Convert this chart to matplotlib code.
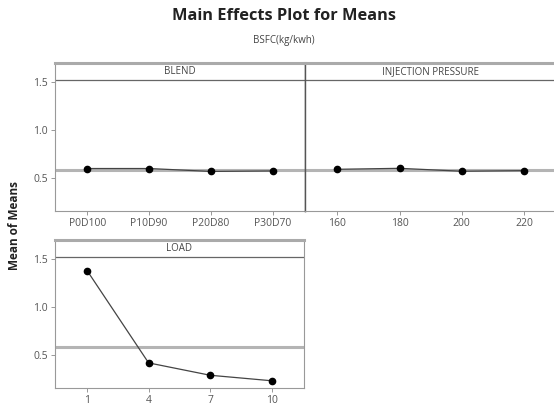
import matplotlib
matplotlib.use("Agg")
import matplotlib.pyplot as plt

# factor levels and main-effect means
blend_levels = ["P0D100", "P10D90", "P20D80", "P30D70"]
blend_means = [0.600, 0.600, 0.570, 0.575]

pressure_levels = ["160", "180", "200", "220"]
pressure_means = [0.592, 0.602, 0.572, 0.578]

load_levels = ["1", "4", "7", "10"]
load_means = [1.376, 0.420, 0.292, 0.235]

grand_mean = 0.583
y_ticks = [0.5, 1.0, 1.5]

plt.rcParams["font.family"] = ["Open Sans", "DejaVu Sans"]

fig = plt.figure(figsize=(5.54, 4.13), dpi=100)

ax_blend = fig.add_axes([0.0993, 0.489, 0.451, 0.358])
ax_press = fig.add_axes([0.5505, 0.489, 0.4535, 0.358])
ax_load = fig.add_axes([0.0993, 0.0605, 0.449, 0.358])

panels = [
    (ax_blend, "BLEND", blend_levels, blend_means, True),
    (ax_press, "INJECTION PRESSURE", pressure_levels, pressure_means, False),
    (ax_load, "LOAD", load_levels, load_means, True),
]

for ax, name, levels, means, show_y in panels:
    xs = list(range(len(levels)))
    ax.axhline(grand_mean, color="#b4b4b4", lw=2.2, zorder=1)
    ax.plot(xs, means, color="#444444", lw=0.9, zorder=2)
    ax.plot(xs, means, "o", color="black", ms=4.5, zorder=3)

    ax.set_xlim(-0.52, len(levels) - 0.48)
    ax.set_ylim(0.16, 1.69)
    ax.set_xticks(xs)
    ax.set_xticklabels(levels)
    ax.set_yticks(y_ticks)
    ax.set_yticklabels([f"{v:.1f}" for v in y_ticks] if show_y else [])
    ax.tick_params(axis="both", length=3, width=0.6, color="#888888",
                   labelcolor="#555555", labelsize=7.5, pad=2)
    if not show_y:
        ax.tick_params(axis="y", length=0)

    # strip header inside the panel
    ax.axhline(1.52, color="#666666", lw=0.9, zorder=1)
    ax.text(0.5, 0.945, name, transform=ax.transAxes, ha="center", va="center",
            fontsize=7, color="#444444")

    for side in ["left", "bottom", "right"]:
        ax.spines[side].set_color("#999999")
        ax.spines[side].set_linewidth(0.8)
    ax.spines["top"].set_color("#aaaaaa")
    ax.spines["top"].set_linewidth(2.2)

ax_press.spines["left"].set_color("#555555")
ax_press.spines["left"].set_linewidth(1.0)
ax_press.spines["right"].set_visible(False)
ax_blend.spines["right"].set_color("#555555")
ax_blend.spines["right"].set_linewidth(1.0)

fig.text(0.513, 0.962, "Main Effects Plot for Means", ha="center", va="center",
         fontsize=11.8, fontweight="bold", color="#222222")
fig.text(0.513, 0.902, "BSFC(kg/kwh)", ha="center", va="center",
         fontsize=7, color="#444444")
fig.text(0.027, 0.455, "Mean of Means", ha="center", va="center", rotation=90,
         fontsize=8.5, fontweight="bold", color="#222222")

fig.savefig("out.png", dpi=100)
